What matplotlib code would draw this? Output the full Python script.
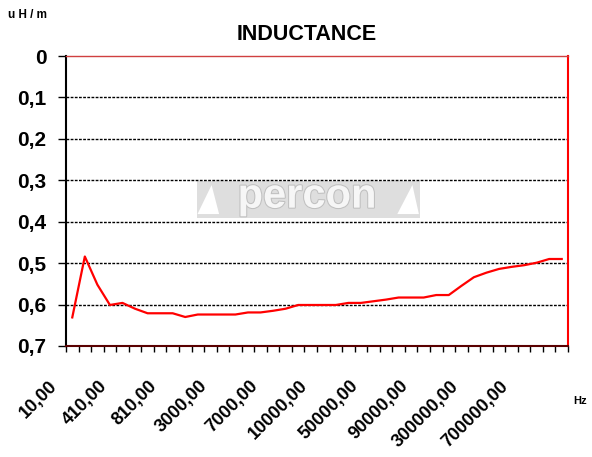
import numpy as np
import matplotlib.pyplot as plt
import matplotlib.transforms as mtransforms
from matplotlib.patches import Rectangle, Polygon
import matplotlib.patheffects as pe

plt.rcParams['font.family'] = ['Liberation Sans', 'DejaVu Sans']

# inductance per frequency step (uH/m), 40 measured points
inductance = [0.631, 0.484, 0.552, 0.601, 0.596, 0.610, 0.621, 0.621, 0.621, 0.630,
              0.624, 0.624, 0.624, 0.624, 0.619, 0.619, 0.615, 0.610, 0.601, 0.601,
              0.601, 0.601, 0.596, 0.596, 0.592, 0.588, 0.583, 0.583, 0.583, 0.577,
              0.577, 0.555, 0.534, 0.523, 0.514, 0.509, 0.505, 0.499, 0.490, 0.490]

# only every 4th frequency is labelled on the axis
freq_labels = ["10,00", "410,00", "810,00", "3000,00", "7000,00", "10000,00",
               "50000,00", "90000,00", "300000,00", "700000,00"]

y_ticks = [0, 0.1, 0.2, 0.3, 0.4, 0.5, 0.6, 0.7]
y_labels = ["0", "0,1", "0,2", "0,3", "0,4", "0,5", "0,6", "0,7"]

n = len(inductance)
x = np.arange(n) + 0.5

fig = plt.figure(figsize=(5.92, 4.57), dpi=100)
ax = fig.add_axes([66/592, 1-346/457, 502/592, 290/457])

# watermark
ax.add_patch(Rectangle((0.26, 0.44), 0.445, 0.13, transform=ax.transAxes,
                       facecolor='#dedede', edgecolor='none', zorder=0))
ax.add_patch(Polygon([(0.262, 0.455), (0.29, 0.555), (0.305, 0.455)], closed=True,
                     transform=ax.transAxes, facecolor='white', edgecolor='none', zorder=0))
ax.add_patch(Polygon([(0.66, 0.455), (0.69, 0.555), (0.703, 0.455)], closed=True,
                     transform=ax.transAxes, facecolor='white', edgecolor='none', zorder=0))
ax.text(0.48, 0.515, "percon", transform=ax.transAxes, ha='center', va='center',
        fontsize=30, fontweight='bold', color='#f6f6f6', zorder=0,
        path_effects=[pe.withStroke(linewidth=1.5, foreground='#c0c0c0')])

for v in y_ticks[1:-1]:
    ax.axhline(v, color='black', lw=1, ls=(0, (2, 1)), zorder=1)

ax.plot(x, inductance, color='#ff0000', lw=1.6, zorder=3)

ax.set_xlim(0, n)
ax.set_ylim(0.7, 0)

ax.set_yticks(y_ticks)
ax.set_yticklabels(y_labels, fontsize=15, fontweight='bold')
ax.tick_params(axis='y', length=6, width=1, direction='out', pad=8)

ax.set_xticks(np.arange(n + 1), minor=True)
ax.set_xticks(x[::4])
ax.set_xticklabels(freq_labels, rotation=45, ha='right', va='center',
                   rotation_mode='anchor', fontsize=13, fontweight='bold',
                   family=['Liberation Sans Narrow', 'Liberation Sans'])
ax.tick_params(axis='x', which='major', length=0, pad=27)
ax.tick_params(axis='x', which='minor', length=4, width=1, direction='out')
offset = mtransforms.ScaledTranslation(-18/100, 0, fig.dpi_scale_trans)
for lab in ax.get_xticklabels():
    lab.set_transform(lab.get_transform() + offset)

ax.spines['left'].set_color('black')
ax.spines['left'].set_linewidth(1.5)
ax.spines['bottom'].set_color('#5a0000')
ax.spines['bottom'].set_linewidth(1.5)
ax.spines['right'].set_color('#ff0000')
ax.spines['right'].set_linewidth(1.5)
ax.spines['top'].set_color('#d04040')
ax.spines['top'].set_linewidth(1)

fig.text(307/592, 1-35/457, "INDUCTANCE", ha='center', va='center',
         fontsize=15.5, fontweight='bold')
fig.text(8/592, 1-15/457, "u H / m", ha='left', va='center',
         fontsize=8.5, fontweight='bold')
fig.text(573/592, 1-401/457, "Hz", ha='left', va='center',
         fontsize=8, fontweight='bold')

fig.savefig("out.png", dpi=100)
